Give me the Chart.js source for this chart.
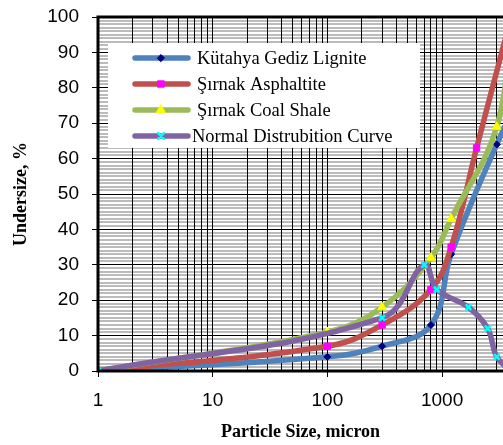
<!DOCTYPE html>
<html>
<head>
  <meta charset="UTF-8">
  <title>Particle size distribution</title>
  <script src="https://cdn.jsdelivr.net/npm/chart.js"></script>
  <style>
    html, body { margin: 0; padding: 0; background: #fff; }
    #wrap { width: 503px; height: 445px; }
  </style>
</head>
<body>
  <div id="wrap"><canvas id="chart" width="503" height="445"></canvas></div>
  <script>
    // series names
    const seriesNames = ['Kütahya Gediz Lignite', 'Şırnak Asphaltite', 'Şırnak Coal Shale', 'Normal Distrubition Curve'];

    // particle size (micron) / undersize (%)
    const lignSize = [1, 100, 300, 800, 1200, 3000, 10000];
    const lignUnder = [0, 4, 7, 13, 33, 64, 100];
    const asphSize = [1, 100, 300, 800, 1200, 2000, 4000];
    const asphUnder = [0, 7, 13, 23, 35, 63, 100];
    const shaleSize = [1, 100, 300, 800, 1200, 3000, 4000];
    const shaleUnder = [0, 11, 18, 32, 43, 69, 100];
    const normSize = [1, 300, 700, 900, 1700, 2500, 3000, 4000];
    const normUnder = [0, 15, 30, 23, 18, 12, 4, 0];

    const xDecades = [1, 10, 100, 1000];
    const yLabels = [0, 10, 20, 30, 40, 50, 60, 70, 80, 90, 100];

    const X_MAX = Math.pow(10, 3 + 61 / 114.8); // plot is cut at the right edge

    const pts = (xs, ys) => xs.map((x, i) => ({ x: x, y: ys[i] }));

    const styles = [
      { line: '#4F81BD', mark: '#000080', shape: 'rectRot', r: 3.5 },
      { line: '#C0504D', mark: '#FF00FF', shape: 'rect', r: 4.5 },
      { line: '#9BBB59', mark: '#FFFF00', shape: 'triangle', r: 5 },
      { line: '#8064A2', mark: '#00FFFF', shape: 'crossRot', r: 4 }
    ];

    const seriesData = [
      pts(lignSize, lignUnder),
      pts(asphSize, asphUnder),
      pts(shaleSize, shaleUnder),
      pts(normSize, normUnder)
    ];

    const datasets = seriesData.map((d, i) => ({
      label: seriesNames[i],
      data: d,
      order: 3 - i,
      borderColor: styles[i].line,
      borderWidth: 5.5,
      borderJoinStyle: 'round',
      borderCapStyle: 'round',
      tension: 0.4,
      pointStyle: styles[i].shape,
      pointRadius: styles[i].r,
      pointBackgroundColor: styles[i].mark,
      pointBorderColor: styles[i].mark,
      pointBorderWidth: i === 3 ? 2.5 : 1
    }));

    // minor ticks for the log grid
    function logTicks(max) {
      const out = [];
      for (let d = 1; d <= max; d *= 10) {
        for (let m = 1; m <= 9; m++) {
          const v = m * d;
          if (v <= max) out.push({ value: v });
        }
      }
      return out;
    }

    const isDecade = v => xDecades.includes(Math.round(v));

    // legend box + frame drawn over the plot
    const boxPlugin = {
      id: 'boxPlugin',
      afterDraw(chart) {
        const ctx = chart.ctx;
        const a = chart.chartArea;
        ctx.save();
        ctx.strokeStyle = '#000';
        ctx.lineWidth = 3;
        ctx.beginPath();
        ctx.moveTo(a.left, a.bottom);
        ctx.lineTo(a.left, a.top);
        ctx.lineTo(a.right + 2, a.top);
        ctx.moveTo(a.left - 1.5, a.bottom);
        ctx.lineTo(a.right + 2, a.bottom);
        ctx.stroke();

        ctx.fillStyle = '#fff';
        ctx.fillRect(108, 43, 312, 105);
        const rows = [58, 84, 110, 136];
        ctx.font = '18.5px "Liberation Serif", "Times New Roman", serif';
        ctx.textBaseline = 'middle';
        rows.forEach((y, i) => {
          const s = styles[i];
          ctx.strokeStyle = s.line;
          ctx.lineWidth = 5.5;
          ctx.lineCap = 'round';
          ctx.beginPath();
          ctx.moveTo(135, y);
          ctx.lineTo(188, y);
          ctx.stroke();
          ctx.fillStyle = s.mark;
          ctx.strokeStyle = s.mark;
          ctx.lineWidth = i === 3 ? 2.5 : 1;
          Chart.helpers.drawPoint(ctx, { pointStyle: s.shape, radius: s.r, borderWidth: ctx.lineWidth, rotation: 0 }, 161, y);
          ctx.fillStyle = '#000';
          ctx.fillText(seriesNames[i], i === 3 ? 192 : 197, y + 1);
        });
        ctx.restore();
      }
    };

    new Chart(document.getElementById('chart'), {
      type: 'line',
      data: { datasets: datasets },
      options: {
        responsive: false,
        animation: false,
        layout: { autoPadding: false, padding: { top: 17, right: 0, left: 0, bottom: 0 } },
        plugins: { legend: { display: false }, tooltip: { enabled: false } },
        scales: {
          y: {
            type: 'linear',
            min: 0,
            max: 100,
            afterFit(scale) {
              scale.width = 98;
              scale.paddingTop = 0;
              scale.paddingBottom = 0;
            },
            border: { display: false },
            grid: {
              color: c => (c.tick.value % 10 === 0 ? '#000' : '#BBBBBB'),
              lineWidth: c => (c.tick.value % 10 === 0 ? 1 : 2),
              tickColor: c => (c.tick.value % 10 === 0 ? '#000' : 'rgba(0,0,0,0)'),
              tickWidth: 1,
              tickLength: 6
            },
            ticks: {
              stepSize: 1,
              autoSkip: false,
              padding: 13,
              color: '#000',
              font: { family: '"Liberation Sans", Arial, sans-serif', size: 19 },
              callback: v => (yLabels.includes(v) ? v : '')
            },
            title: {
              display: true,
              text: 'Undersize, %',
              color: '#000',
              padding: { top: 11, bottom: 0 },
              font: { family: '"Liberation Serif", "Times New Roman", serif', size: 18, weight: 'bold' }
            }
          },
          x: {
            type: 'logarithmic',
            min: 1,
            max: X_MAX,
            afterFit(scale) {
              scale.height = 74;
              scale.paddingLeft = 0;
              scale.paddingRight = 0;
            },
            afterBuildTicks(scale) { scale.ticks = logTicks(X_MAX); },
            border: { display: false },
            grid: {
              color: '#000',
              lineWidth: 1,
              tickColor: c => (isDecade(c.tick.value) ? '#000' : 'rgba(0,0,0,0)'),
              tickLength: 6
            },
            ticks: {
              autoSkip: false,
              maxRotation: 0,
              padding: 12,
              color: '#000',
              font: { family: '"Liberation Sans", Arial, sans-serif', size: 19 },
              callback: v => (isDecade(v) ? String(Math.round(v)) : '')
            },
            title: {
              display: true,
              text: 'Particle Size, micron',
              color: '#000',
              padding: { top: 0, bottom: 2 },
              font: { family: '"Liberation Serif", "Times New Roman", serif', size: 18, weight: 'bold' }
            }
          }
        }
      },
      plugins: [boxPlugin]
    });
  </script>
</body>
</html>
